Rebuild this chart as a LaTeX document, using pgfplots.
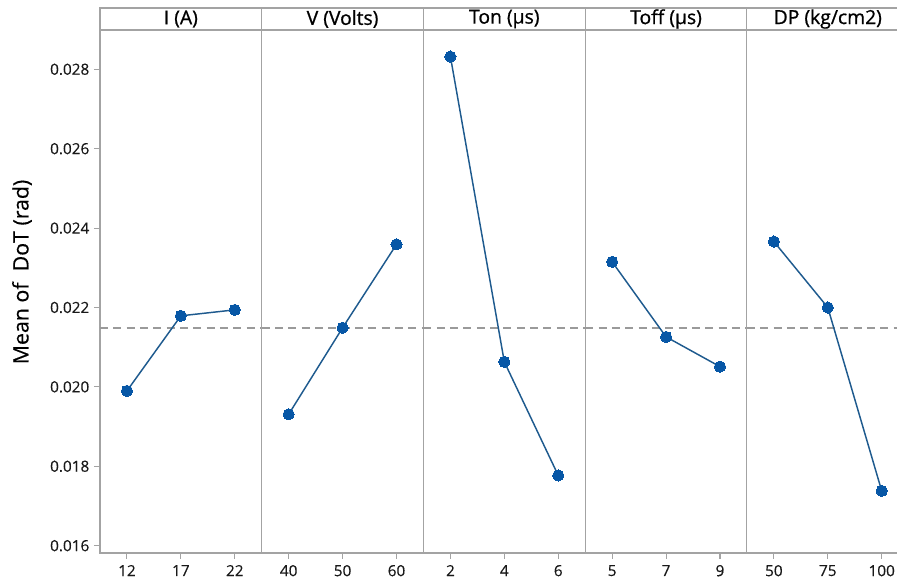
\documentclass[border=0pt]{standalone}
\usepackage{pgfplots}
\pgfplotsset{compat=1.18}
\usepackage{fontspec}
\setmainfont{Open Sans}
\newfontfamily\headfont[FakeBold=0.9]{Open Sans}
\newfontfamily\labfont[FakeBold=0.4]{Open Sans}
\definecolor{axgray}{HTML}{A3A3A3}
\definecolor{refgray}{HTML}{9A9A9A}
\definecolor{lineblue}{HTML}{1E5A8E}
\definecolor{markblue}{HTML}{0757A6}
\tikzset{header/.style={font=\headfont\fontsize{14.5}{16}\selectfont}}
\pgfplotsset{
  panel/.style={
    scale only axis, width=121.3pt, height=392.25pt, anchor=south west,
    xmin=-0.5, xmax=2.5, ymin=0.015816, ymax=0.02899,
    xtick={0,1,2},
    axis line style={axgray, line width=0.8pt, -},
    every tick/.style={axgray, line width=0.8pt},
    tick align=outside, major tick length=4.5pt,
    xtick pos=bottom, ytick pos=left,
    ytick=\empty,
    clip=false,
    xticklabel style={font=\labfont\fontsize{11.5}{13}\selectfont, text=black!90, yshift=-1pt},
    yticklabel style={font=\labfont\fontsize{11.5}{13}\selectfont, text=black!90},
    /pgf/number format/assume math mode=true,
  },
  series/.style={lineblue, line width=1.1pt, mark=*, mark size=4.2pt,
    mark options={fill=markblue, draw=markblue, line width=0pt}},
  meanline/.style={refgray, line width=1.3pt, dash pattern=on 6pt off 4pt, forget plot},
}
\newcommand{\panelhead}[1]{%
  \draw[axgray, line width=0.8pt] (rel axis cs:0,1) rectangle (rel axis cs:1,1.042);
  \node[header] at (rel axis cs:0.5,1.021) {#1};
}
\begin{document}
\begin{tikzpicture}
\useasboundingbox (0,0) rectangle (672.75pt,438pt);
\clip (0,0) rectangle (672.75pt,438pt);
\node[rotate=90, font=\labfont\fontsize{16}{18}\selectfont] at (16.5pt,234pt) {Mean of\ \ DoT (rad)};

% Panel 1: I (A)
\begin{axis}[panel, at={(75pt,23.25pt)},
  ytick={0.016,0.018,0.020,0.022,0.024,0.026,0.028},
  scaled y ticks=false,
  yticklabel style={/pgf/number format/.cd, fixed, fixed zerofill, precision=3},
  xticklabels={12,17,22}]
\addplot[meanline] coordinates {(-0.5,0.02149) (2.5,0.02149)};
\addplot[series] coordinates {(0,0.01990) (1,0.02179) (2,0.02194)};
\panelhead{I (A)}
\end{axis}

% Panel 2: V (Volts)
\begin{axis}[panel, at={(196.3pt,23.25pt)}, xticklabels={40,50,60}]
\addplot[meanline] coordinates {(-0.5,0.02149) (2.5,0.02149)};
\addplot[series] coordinates {(0,0.01931) (1,0.02149) (2,0.02359)};
\panelhead{V (Volts)}
\end{axis}

% Panel 3: Ton
\begin{axis}[panel, at={(317.6pt,23.25pt)}, xticklabels={2,4,6}]
\addplot[meanline] coordinates {(-0.5,0.02149) (2.5,0.02149)};
\addplot[series] coordinates {(0,0.02832) (1,0.02063) (2,0.01777)};
\panelhead{Ton (µs)}
\end{axis}

% Panel 4: Toff
\begin{axis}[panel, at={(438.9pt,23.25pt)}, xticklabels={5,7,9}]
\addplot[meanline] coordinates {(-0.5,0.02149) (2.5,0.02149)};
\addplot[series] coordinates {(0,0.02315) (1,0.02126) (2,0.02051)};
\panelhead{Toff (µs)}
\end{axis}

% Panel 5: DP (right edge cut off, as in the reference)
\begin{axis}[panel, at={(560.2pt,23.25pt)}, xticklabels={50,75,100},
  axis x line*=bottom, axis y line*=left]
\addplot[meanline] coordinates {(-0.5,0.02149) (2.5,0.02149)};
\addplot[series] coordinates {(0,0.02366) (1,0.02200) (2,0.01738)};
\draw[axgray, line width=0.8pt] (rel axis cs:1,1.042) -- (rel axis cs:0,1.042) -- (rel axis cs:0,1) -- (rel axis cs:1,1);
\node[header] at (rel axis cs:0.5,1.021) {DP (kg/cm2)};
\end{axis}
\end{tikzpicture}
\end{document}
